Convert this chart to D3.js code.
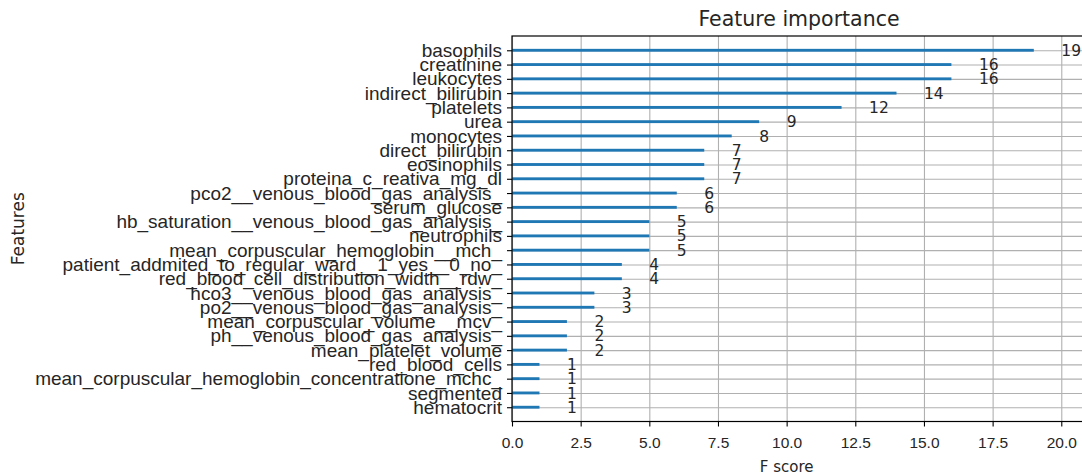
<!DOCTYPE html>
<html>
<head>
<meta charset="utf-8">
<style>
body { margin: 0; background: #fff; }
svg { font-family: "DejaVu Sans", sans-serif; }
.grid line { stroke: #b0b0b0; stroke-width: 1.1px; }
.grid path { display: none; }
.grid text { display: none; }
.axis text { font-size: 15.5px; fill: #262626; }
.axis.yax text { font-size: 19px; }
.axis line { stroke: #000; stroke-width: 1.1px; }
.axis path { display: none; }
.frame { fill: none; stroke: #000; stroke-width: 1.2px; }
.bar { fill: #1f77b4; }
.val { font-size: 15.5px; fill: #262626; }
.title { font-size: 20.5px; fill: #262626; }
.label { font-size: 15px; fill: #262626; }
.label.ylab { font-size: 17px; }
</style>
</head>
<body>
<svg width="1082" height="476"></svg>
<script src="https://cdn.jsdelivr.net/npm/d3@7"></script>
<script>
// features, from top of chart to bottom
var features = [
  "basophils", "creatinine", "leukocytes", "indirect_bilirubin", "platelets",
  "urea", "monocytes", "direct_bilirubin", "eosinophils", "proteina_c_reativa_mg_dl",
  "pco2__venous_blood_gas_analysis_", "serum_glucose",
  "hb_saturation__venous_blood_gas_analysis_", "neutrophils",
  "mean_corpuscular_hemoglobin__mch_", "patient_addmited_to_regular_ward__1_yes__0_no_",
  "red_blood_cell_distribution_width__rdw_", "hco3__venous_blood_gas_analysis_",
  "po2__venous_blood_gas_analysis_", "mean_corpuscular_volume__mcv_",
  "ph__venous_blood_gas_analysis_", "mean_platelet_volume", "red_blood_cells",
  "mean_corpuscular_hemoglobin_concentratione_mchc_", "segmented", "hematocrit"
];
var fscores = [19, 16, 16, 14, 12, 9, 8, 7, 7, 7, 6, 6, 5, 5, 5, 4, 4, 3, 3, 2, 2, 2, 1, 1, 1, 1];
var xTicks = [0, 2.5, 5, 7.5, 10, 12.5, 15, 17.5, 20];

var svg = d3.select("svg"),
    margin = {top: 36, right: -4, bottom: 54.5, left: 512},
    width = +svg.attr("width") - margin.left - margin.right,
    height = +svg.attr("height") - margin.top - margin.bottom;

var n = features.length;

// x like xgboost: 0 .. max*1.1
var x = d3.scaleLinear()
  .domain([0, d3.max(fscores) * 1.1])
  .range([0, width]);

// y like xgboost: ylim(-1, n), index 0 at the bottom
var y = d3.scaleLinear()
  .domain([-1, n])
  .range([height, 0]);

function rowIndex(i) { return n - 1 - i; }

var g = svg.append("g")
  .attr("transform", "translate(" + margin.left + "," + margin.top + ")");

// grid
g.append("g")
  .attr("class", "grid")
  .attr("transform", "translate(0," + height + ")")
  .call(d3.axisBottom(x).tickValues(xTicks).tickSize(-height));

g.append("g")
  .attr("class", "grid")
  .call(d3.axisLeft(y).tickValues(d3.range(n)).tickSize(-width));

// bars, height 0.2 like plot_importance
g.selectAll(".bar")
  .data(fscores)
  .enter().append("rect")
  .attr("class", "bar")
  .attr("x", x(0))
  .attr("y", function(d, i) { return y(rowIndex(i) + 0.1); })
  .attr("width", function(d) { return x(d) - x(0); })
  .attr("height", y(0) - y(0.2));

// value labels at x+1
g.selectAll(".val")
  .data(fscores)
  .enter().append("text")
  .attr("class", "val")
  .attr("x", function(d) { return x(d + 1); })
  .attr("y", function(d, i) { return y(rowIndex(i)); })
  .attr("dy", "0.36em")
  .text(function(d) { return d; });

// frame
g.append("rect")
  .attr("class", "frame")
  .attr("x", 0).attr("y", 0)
  .attr("width", width).attr("height", height);

// axes
g.append("g")
  .attr("class", "axis")
  .attr("transform", "translate(0," + height + ")")
  .call(d3.axisBottom(x).tickValues(xTicks).tickSize(5).tickPadding(10)
    .tickFormat(d3.format(".1f")));

g.append("g")
  .attr("class", "axis yax")
  .call(d3.axisLeft(y).tickValues(d3.range(n)).tickSize(5).tickPadding(5)
    .tickFormat(function(d) { return features[n - 1 - d]; }));

// titles
svg.append("text")
  .attr("class", "title")
  .attr("x", margin.left + width / 2)
  .attr("y", 26)
  .attr("text-anchor", "middle")
  .text("Feature importance");

svg.append("text")
  .attr("class", "label")
  .attr("x", margin.left + x(10))
  .attr("y", 472)
  .attr("text-anchor", "middle")
  .text("F score");

svg.append("text")
  .attr("class", "label ylab")
  .attr("transform", "translate(24," + (margin.top + height / 2) + ") rotate(-90)")
  .attr("text-anchor", "middle")
  .text("Features");
</script>
</body>
</html>
